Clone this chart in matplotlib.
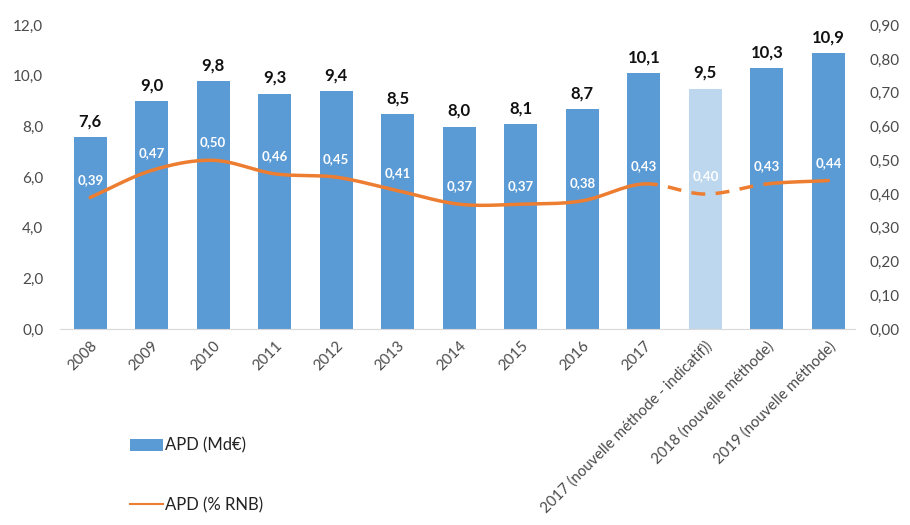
import numpy as np
import matplotlib
matplotlib.use("Agg")
import matplotlib.pyplot as plt
from matplotlib.patches import Patch
from matplotlib.lines import Line2D

categories = ["2008", "2009", "2010", "2011", "2012", "2013", "2014", "2015", "2016", "2017",
              "2017 (nouvelle méthode - indicatif))", "2018 (nouvelle méthode)", "2019 (nouvelle méthode)"]
apd_md = [7.6, 9.0, 9.8, 9.3, 9.4, 8.5, 8.0, 8.1, 8.7, 10.1, 9.5, 10.3, 10.9]
apd_rnb = [0.39, 0.47, 0.50, 0.46, 0.45, 0.41, 0.37, 0.37, 0.38, 0.43, 0.40, 0.43, 0.44]
left_ticks = [0, 2, 4, 6, 8, 10, 12]
right_ticks = [0.0, 0.1, 0.2, 0.3, 0.4, 0.5, 0.6, 0.7, 0.8, 0.9]

plt.rcParams['font.family'] = ['Lato', 'DejaVu Sans']

BLUE = "#5B9BD5"
LIGHT = "#BDD7EE"
ORANGE = "#ED7D31"
GREY = "#4A4A4A"

def fr(v, d):
    return f"{v:.{d}f}".replace(".", ",")

def catmull(xs, ys, n=30):
    xs = np.asarray(xs, float); ys = np.asarray(ys, float)
    px = np.concatenate([[2*xs[0]-xs[1]], xs, [2*xs[-1]-xs[-2]]])
    py = np.concatenate([[2*ys[0]-ys[1]], ys, [2*ys[-1]-ys[-2]]])
    ox, oy = [], []
    for i in range(1, len(px)-2):
        t = np.linspace(0, 1, n)
        for arr, out in ((px, ox), (py, oy)):
            p0, p1, p2, p3 = arr[i-1], arr[i], arr[i+1], arr[i+2]
            out.extend(0.5*((2*p1) + (-p0+p2)*t + (2*p0-5*p1+4*p2-p3)*t**2 + (-p0+3*p1-3*p2+p3)*t**3))
    return np.array(ox), np.array(oy)

fig = plt.figure(figsize=(9.1, 5.25), dpi=100)
ax = fig.add_axes([0.066, 0.373, 0.874, 0.579])
x = np.arange(len(categories))
colors = [BLUE]*len(categories)
colors[10] = LIGHT
ax.bar(x, apd_md, width=0.54, color=colors, zorder=2)
for xi, v in zip(x, apd_md):
    ax.text(xi, v + 0.3, fr(v, 1), ha="center", va="bottom", fontsize=12,
            fontweight="bold", color="#111111")
ax.set_ylim(0, 12)
ax.set_xlim(-0.49, 12.44)
ax.set_yticks(left_ticks)
ax.set_yticklabels([fr(t, 1) for t in left_ticks], fontsize=11, color=GREY)
ax.set_xticks(x)
ax.set_xticklabels(categories, rotation=45, ha="right", rotation_mode="anchor",
                   fontsize=10.8, color=GREY)
ax.tick_params(axis="y", length=0, pad=12)
ax.tick_params(axis="x", length=0, pad=7)
for s in ["top", "right", "left"]:
    ax.spines[s].set_visible(False)
ax.spines["bottom"].set_color("#D9D9D9")

ax2 = ax.twinx()
ax2.set_ylim(0, 0.9)
ax2.set_yticks(right_ticks)
ax2.set_yticklabels([fr(t, 2) for t in right_ticks], fontsize=11, color=GREY)
ax2.tick_params(axis="y", length=0, pad=10)
for s in ["top", "right", "left", "bottom"]:
    ax2.spines[s].set_visible(False)

n = 40
sx, sy = catmull(x, apd_rnb, n=n)
seg_solid1 = slice(0, 9*n)
seg_dash = slice(9*n, 11*n)
seg_solid2 = slice(11*n, 12*n)
ax2.plot(sx[seg_solid1], sy[seg_solid1], color=ORANGE, lw=2.5, zorder=3, solid_capstyle="round")
ax2.plot(sx[seg_dash], sy[seg_dash], color=ORANGE, lw=2.5, ls=(0, (4, 3)), zorder=3)
ax2.plot(sx[seg_solid2], sy[seg_solid2], color=ORANGE, lw=2.5, zorder=3, solid_capstyle="round")
for xi, v in zip(x, apd_rnb):
    ax2.text(xi, v + 0.035, fr(v, 2), ha="center", va="bottom", fontsize=9.5,
             fontweight="bold", color="white", zorder=4)

handles = [Patch(facecolor=BLUE, label="APD (Md€)"),
           Line2D([0], [0], color=ORANGE, lw=1.5, label="APD (% RNB)")]
fig.legend(handles=handles, loc="upper left", bbox_to_anchor=(0.126, 0.195),
           frameon=False, fontsize=12, labelspacing=2.6, handlelength=2.0,
           handletextpad=0.1, labelcolor="#222222")

fig.savefig("out.png", dpi=100)
